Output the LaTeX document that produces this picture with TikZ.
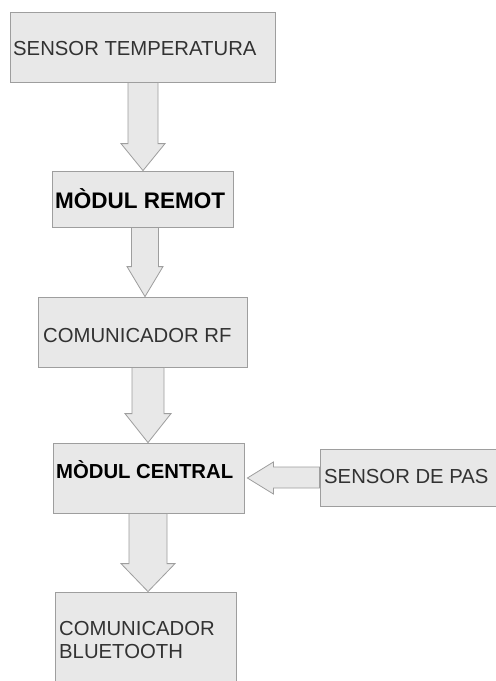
\documentclass[tikz,border=0pt]{standalone}
\usepackage{fontspec}
\setmainfont{Liberation Sans}
\usetikzlibrary{calc}
\definecolor{boxfill}{RGB}{232,232,232}
\definecolor{boxline}{RGB}{158,158,158}
\definecolor{txt}{RGB}{50,50,50}

% downward block arrow: from node, to node, x centre, shaft half width, head half width, head length
\newcommand\downblock[6]{%
  \filldraw[blockarrow] let \p1=(#1.south), \p2=(#2.north) in
    (#3pt-#4pt,\y1) -- (#3pt+#4pt,\y1) -- (#3pt+#4pt,\y2+#6pt) -- (#3pt+#5pt,\y2+#6pt)
    -- (#3pt,\y2) -- (#3pt-#5pt,\y2+#6pt) -- (#3pt-#4pt,\y2+#6pt) -- cycle;}

\begin{document}
\begin{tikzpicture}[x=1pt,y=-1pt,
  box/.style={draw=boxline, fill=boxfill, line width=0.8pt, inner sep=0pt},
  blockarrow/.style={draw=boxline, fill=boxfill, line width=0.8pt, line join=miter},
  lbl/.style={anchor=base west, inner sep=0pt, text=txt, font=\fontsize{20.3}{23}\selectfont},
  boldlbl/.style={anchor=base west, inner sep=0pt, text=black, font=\fontsize{20.3}{23}\selectfont\bfseries}]
  \useasboundingbox (0,0) rectangle (496,681);
  \fill[white] (0,0) rectangle (496,681);
  \clip (0,0) rectangle (496,681);

  % blocks
  \node[box, minimum width=265pt, minimum height=70pt] (b1) at (142.5,47) {};
  \node[box, minimum width=181pt, minimum height=56pt] (b2) at (142.5,199) {};
  \node[box, minimum width=209pt, minimum height=70pt] (b3) at (142.5,332) {};
  \node[box, minimum width=191pt, minimum height=70pt] (b4) at (148.5,478) {};
  \node[box, minimum width=185pt, minimum height=57pt] (b5) at (412.5,477.5) {};
  \node[box, minimum width=181pt, minimum height=105pt] (b6) at (145.5,644.5) {};

  % labels
  \node[lbl] (t1) at (13,55) {SENSOR TEMPERATURA};
  \node[boldlbl, font=\fontsize{22.5}{25}\selectfont\bfseries] (t2) at (55,208) {MÒDUL REMOT};
  \node[lbl] (t3) at (43,342) {COMUNICADOR RF};
  \node[boldlbl] (t4) at (56,478) {MÒDUL CENTRAL};
  \node[lbl] (t5) at (324,483) {SENSOR DE PAS};
  \node[lbl, align=left] (t6) at (59,658) {COMUNICADOR\\BLUETOOTH};

  % flow arrows
  \downblock{b1}{b2}{143}{15}{22}{27}
  \downblock{b2}{b3}{145}{13.5}{18}{30}
  \downblock{b3}{b4}{148}{16}{23}{29}
  \downblock{b4}{b6}{148}{19}{27}{28}

  % side input arrow
  \filldraw[blockarrow] let \p1=(b5.west), \p2=(b4.east) in
    (\x1,-488pt) -- (\x1,-467pt) -- (\x2+29pt,-467pt) -- (\x2+29pt,-462pt)
    -- (\x2+3pt,-478pt) -- (\x2+29pt,-494pt) -- (\x2+29pt,-488pt) -- cycle;
\end{tikzpicture}
\end{document}
